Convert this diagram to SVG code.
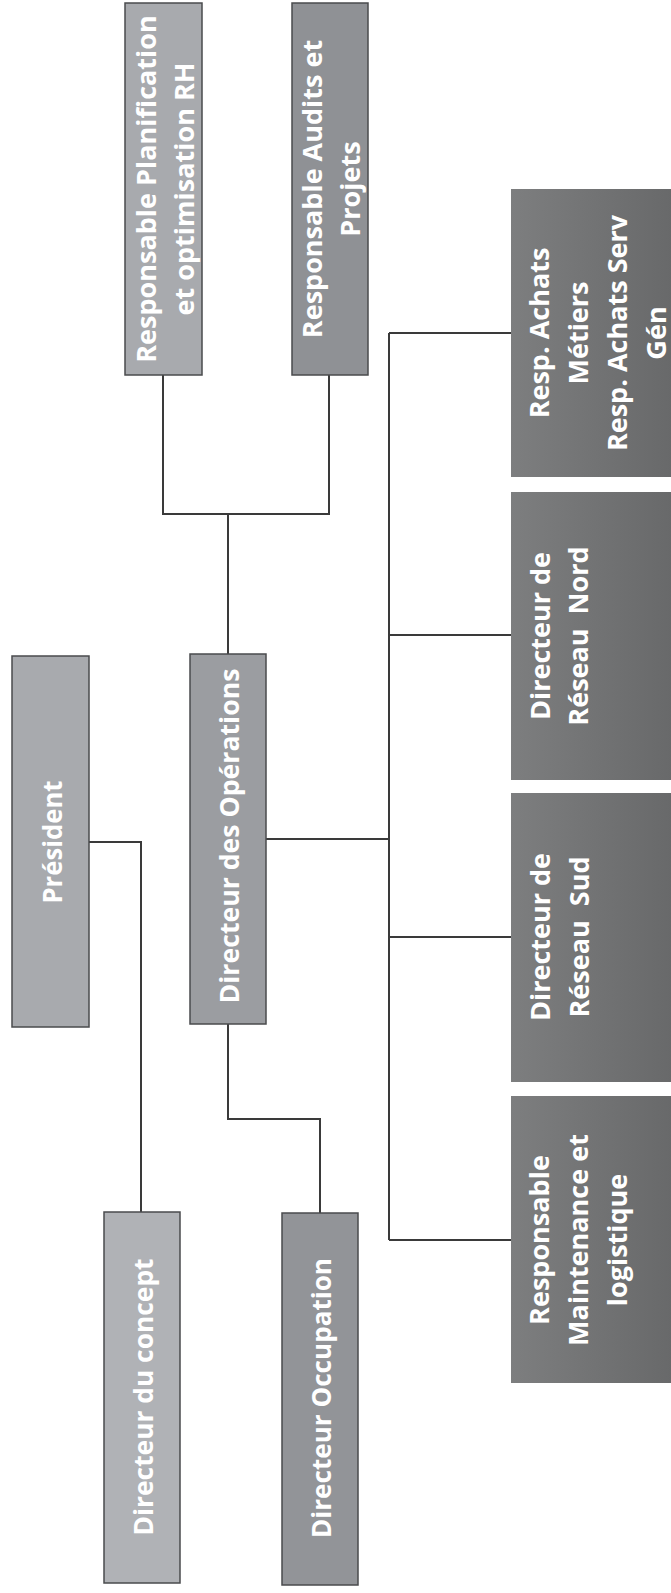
<svg xmlns="http://www.w3.org/2000/svg" width="671" height="1593" viewBox="0 0 671 1593">
<style>
.lt{stroke:#4a4b4d;stroke-width:1.5}
.t{font-family:"Open Sans","DejaVu Sans",sans-serif;font-weight:bold;font-size:27px;fill:#ffffff;text-anchor:middle;dominant-baseline:central}
.c{fill:none;stroke:#3a3a3a;stroke-width:2}
</style>
<defs>
<linearGradient id="dk" x1="0" y1="0" x2="1" y2="0">
<stop offset="0" stop-color="#7d7e7f"/>
<stop offset="1" stop-color="#68696a"/>
</linearGradient>
</defs>
<rect width="671" height="1593" fill="#ffffff"/>
<g id="connectors" class="c">
<path d="M163 375V514H329V375M228 514V654"/>
<path d="M266 839H389M389 333V1240M389 333H511M389 635H511M389 937H511M389 1240H511"/>
<path d="M89 842H141V1212"/>
<path d="M228 1024V1119H320V1213"/>
</g>
<g id="planif">
<rect class="lt" x="125" y="3" width="77" height="372" fill="#a8aaae"/>
<text class="t" transform="translate(164,189) rotate(-90)"><tspan x="0" y="-19">Responsable Planification</tspan><tspan x="0" y="19">et optimisation RH</tspan></text>
</g>
<g id="audits">
<rect class="lt" x="292" y="3" width="76" height="372" fill="#8f9195"/>
<text class="t" transform="translate(330,189) rotate(-90)"><tspan x="0" y="-19">Responsable Audits et</tspan><tspan x="0" y="19">Projets</tspan></text>
</g>
<g id="achats">
<rect x="511" y="189" width="162" height="288" fill="url(#dk)"/>
<text class="t" transform="translate(538,333) rotate(-90)"><tspan x="0" y="0">Resp. Achats</tspan><tspan x="0" y="39">Métiers</tspan><tspan x="0" y="78">Resp. Achats Serv</tspan><tspan x="0" y="117">Gén</tspan></text>
</g>
<g id="nord">
<rect x="511" y="492" width="162" height="288" fill="url(#dk)"/>
<text class="t" xml:space="preserve" transform="translate(539,636) rotate(-90)"><tspan x="0" y="0">Directeur de</tspan><tspan x="0" y="38">Réseau  Nord</tspan></text>
</g>
<g id="sud">
<rect x="511" y="793" width="162" height="289" fill="url(#dk)"/>
<text class="t" xml:space="preserve" transform="translate(539,937) rotate(-90)"><tspan x="0" y="0">Directeur de</tspan><tspan x="0" y="39">Réseau  Sud</tspan></text>
</g>
<g id="maintenance">
<rect x="511" y="1096" width="162" height="287" fill="url(#dk)"/>
<text class="t" transform="translate(538,1240) rotate(-90)"><tspan x="0" y="0">Responsable</tspan><tspan x="0" y="39">Maintenance et</tspan><tspan x="0" y="78">logistique</tspan></text>
</g>
<g id="president">
<rect class="lt" x="12" y="656" width="77" height="371" fill="#a8aaae"/>
<text class="t" transform="translate(51,842) rotate(-90)" textLength="123" lengthAdjust="spacingAndGlyphs">Président</text>
</g>
<g id="directeur-operations">
<rect class="lt" x="190" y="654" width="76" height="370" fill="#9b9da1"/>
<text class="t" transform="translate(228,836) rotate(-90)" textLength="335" lengthAdjust="spacingAndGlyphs">Directeur des Opérations</text>
</g>
<g id="concept">
<rect class="lt" x="104" y="1212" width="76" height="371" fill="#b0b2b6"/>
<text class="t" transform="translate(142,1397) rotate(-90)" textLength="277" lengthAdjust="spacingAndGlyphs">Directeur du concept</text>
</g>
<g id="occupation">
<rect class="lt" x="282" y="1213" width="76" height="372" fill="#929498"/>
<text class="t" transform="translate(320,1398) rotate(-90)" textLength="280" lengthAdjust="spacingAndGlyphs">Directeur Occupation</text>
</g>
</svg>
